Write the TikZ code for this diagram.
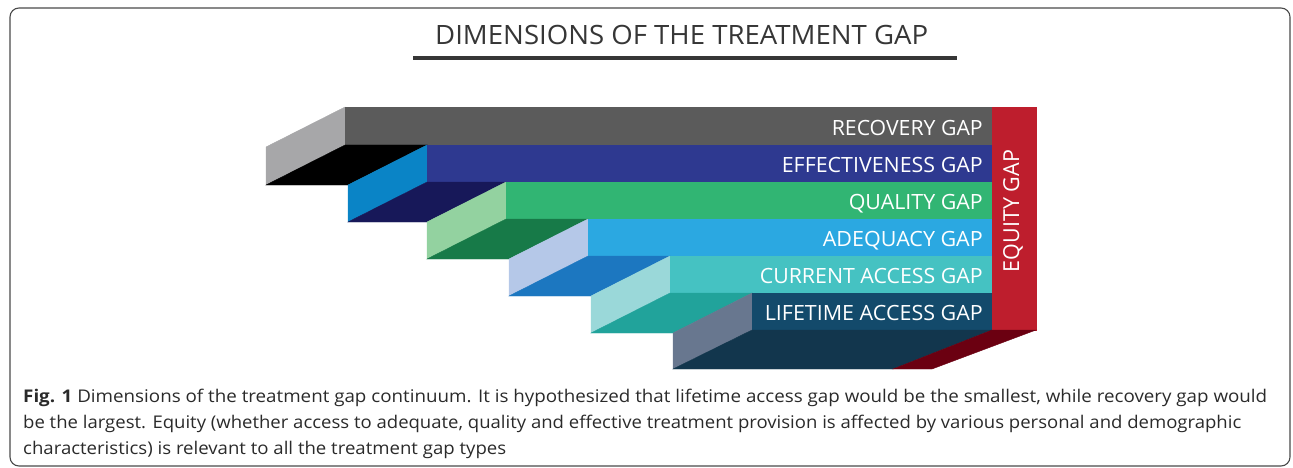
\documentclass[tikz,border=0pt]{standalone}
\usepackage{fontspec}
\setmainfont{Open Sans}
\usepackage{graphicx}
\definecolor{framec}{HTML}{4A4A4A}
\definecolor{titlec}{HTML}{363636}
\definecolor{capc}{HTML}{2A2A2A}
\definecolor{recF}{HTML}{5B5B5B}
\definecolor{recS}{HTML}{A7A7A9}
\definecolor{recB}{HTML}{000000}
\definecolor{effF}{HTML}{2E3990}
\definecolor{effS}{HTML}{0A84C6}
\definecolor{effB}{HTML}{171859}
\definecolor{quaF}{HTML}{31B573}
\definecolor{quaS}{HTML}{93D2A0}
\definecolor{quaB}{HTML}{177A48}
\definecolor{adeF}{HTML}{2BA8E1}
\definecolor{adeS}{HTML}{B5C8E8}
\definecolor{adeB}{HTML}{1C77C0}
\definecolor{curF}{HTML}{45C2C2}
\definecolor{curS}{HTML}{9AD8D9}
\definecolor{curB}{HTML}{21A39B}
\definecolor{lifF}{HTML}{134A6B}
\definecolor{lifS}{HTML}{68778F}
\definecolor{lifB}{HTML}{12364D}
\definecolor{equF}{HTML}{BE1E2D}
\definecolor{equB}{HTML}{6B0011}
\newcommand\fitw[2]{\resizebox{#1pt}{\height}{#2}}
\tikzset{
  face/.style={fill=#1, draw=#1, line width=0.4pt},
  barlabel/.style={anchor=base east, inner sep=0pt, text=white, font=\fontsize{21}{24}\selectfont},
  caption/.style={anchor=base west, inner sep=0pt, text=capc, font=\fontsize{17.5}{20}\selectfont}
}
\begin{document}
\begin{tikzpicture}[x=1pt,y=-1pt]
\useasboundingbox (0,0) rectangle (1293,468);
\draw[framec, line width=1.1pt, rounded corners=9pt] (10,8) rectangle (1290,466);
% title
\node[anchor=base west, inner sep=0pt, text=titlec, font=\fontsize{26.6}{30}\selectfont] (title) at (435,45) {\fitw{493}{DIMENSIONS OF THE TREATMENT GAP}};
\fill[titlec] (413,56) rectangle (957,60);
% bars: side, front, visible bottom
% recovery
\fill[face=recS] (345,107) -- (345,145) -- (266,185) -- (266,147) -- cycle;
\fill[face=recF] (345,107) rectangle (992,145);
\fill[face=recB] (345,145) -- (427,145) -- (348,185) -- (266,185) -- cycle;
% effectiveness
\fill[face=effS] (427,145) -- (427,182) -- (348,222) -- (348,185) -- cycle;
\fill[face=effF] (427,145) rectangle (992,182);
\fill[face=effB] (427,182) -- (506,182) -- (427,222) -- (348,222) -- cycle;
% quality
\fill[face=quaS] (506,182) -- (506,219) -- (427,259) -- (427,222) -- cycle;
\fill[face=quaF] (506,182) rectangle (992,219);
\fill[face=quaB] (506,219) -- (588,219) -- (509,259) -- (427,259) -- cycle;
% adequacy
\fill[face=adeS] (588,219) -- (588,256) -- (509,296) -- (509,259) -- cycle;
\fill[face=adeF] (588,219) rectangle (992,256);
\fill[face=adeB] (588,256) -- (670,256) -- (591,296) -- (509,296) -- cycle;
% current access
\fill[face=curS] (670,256) -- (670,293) -- (591,333) -- (591,296) -- cycle;
\fill[face=curF] (670,256) rectangle (992,293);
\fill[face=curB] (670,293) -- (752,293) -- (673,333) -- (591,333) -- cycle;
% lifetime access
\fill[face=lifS] (752,293) -- (752,330) -- (673,369) -- (673,333) -- cycle;
\fill[face=lifF] (752,293) rectangle (992,330);
\fill[face=lifB] (752,330) -- (992,330) -- (893,369) -- (673,369) -- cycle;
% equity
\fill[face=equF] (992,107) rectangle (1036,330);
\fill[face=equB] (992,330) -- (1036,330) -- (932,369) -- (893,369) -- cycle;
% labels
\node[barlabel] (rec) at (983,136) {\fitw{151}{RECOVERY GAP}};
\node[barlabel] (eff) at (983,172.5) {\fitw{201}{EFFECTIVENESS GAP}};
\node[barlabel] (qua) at (983,209.5) {\fitw{134}{QUALITY GAP}};
\node[barlabel] (ade) at (983,246.5) {\fitw{160}{ADEQUACY GAP}};
\node[barlabel] (cur) at (983,283.5) {\fitw{223}{CURRENT ACCESS GAP}};
\node[barlabel] (lif) at (983,320.5) {\fitw{218}{LIFETIME ACCESS GAP}};
\node[inner sep=0pt, text=white, rotate=90, font=\fontsize{22}{24}\selectfont] (equ) at (1013,211) {\fitw{122}{EQUITY GAP}};
% caption
\node[caption] (cap1) at (23,402) {\fitw{1244}{\textbf{Fig. 1} Dimensions of the treatment gap continuum. It is hypothesized that lifetime access gap would be the smallest, while recovery gap would}};
\node[caption] (cap2) at (23,428) {\fitw{1218}{be the largest. Equity (whether access to adequate, quality and effective treatment provision is affected by various personal and demographic}};
\node[caption] (cap3) at (23,454) {\fitw{483}{characteristics) is relevant to all the treatment gap types}};
\end{tikzpicture}
\end{document}
